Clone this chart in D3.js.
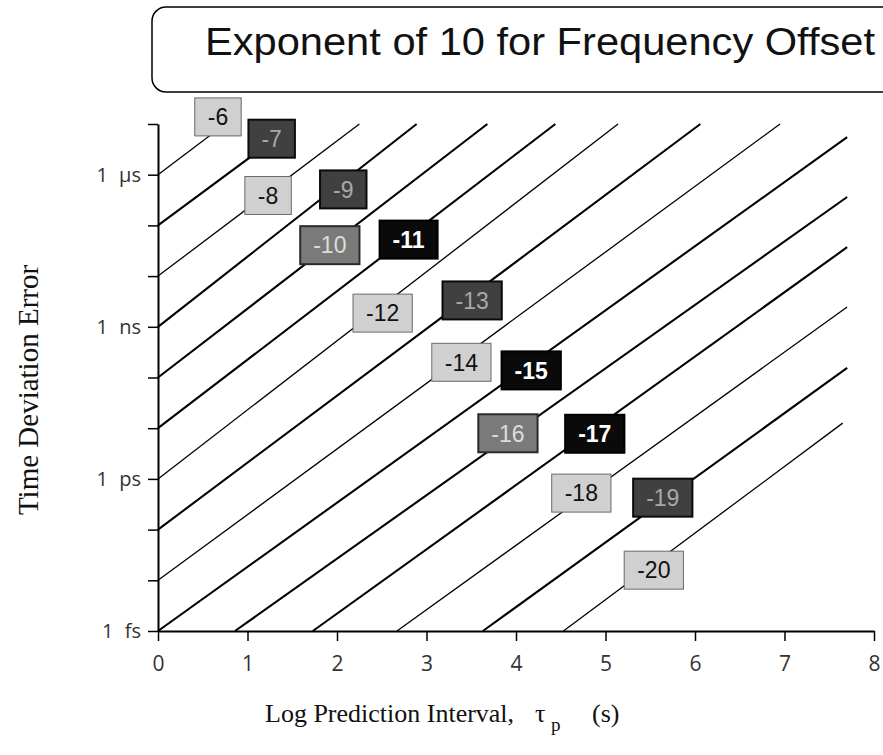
<!DOCTYPE html>
<html>
<head>
<meta charset="utf-8">
<script src="https://cdn.jsdelivr.net/npm/d3@7"></script>
<style>
  html, body { margin: 0; padding: 0; background: #fff; }
  svg { display: block; }
</style>
</head>
<body>
<svg id="chart" width="883" height="755"></svg>
<script>
// ---- Data ----
const titleText = "Exponent of 10 for Frequency Offset";
const xTicks = [0, 1, 2, 3, 4, 5, 6, 7, 8];
const yTicks = [-15, -14, -13, -12, -11, -10, -9, -8, -7, -6, -5];
const yTickLabels = { "-15": "1 fs", "-12": "1 ps", "-9": "1 ns", "-6": "1 µs" };

// exponent of 10 for the frequency offset, one line each
const exponents  = [-6, -7, -8, -9, -10, -11, -12, -13, -14, -15, -16, -17, -18, -19, -20];
// line end points: x = log prediction interval, y = log10(time deviation error, s)
const lineStartX = [0, 0, 0, 0, 0, 0, 0, 0, 0, 0, 0.86, 1.73, 2.67, 3.63, 4.53];
const lineStartY = [-6, -7, -8, -9, -10, -11, -12, -13, -14, -15, -15, -15, -15, -15, -15];
const lineEndX   = [0.75, 1.53, 2.25, 2.89, 3.68, 4.44, 5.14, 6.06, 6.95, 7.70, 7.70, 7.70, 7.70, 7.70, 7.65];
const lineEndY   = [-5, -5, -5, -5, -5, -5, -5, -5, -5, -5.26, -6.44, -7.43, -8.61, -9.81, -10.90];
// label box centres (same data units) and shade class
const labelX     = [0.67, 1.27, 1.23, 2.07, 1.92, 2.80, 2.51, 3.51, 3.39, 4.17, 3.91, 4.88, 4.73, 5.64, 5.54];
const labelY     = [-4.86, -5.29, -6.41, -6.29, -7.39, -7.28, -8.73, -8.48, -9.70, -9.86, -11.10, -11.11, -12.28, -12.37, -13.80];
const labelShade = ["light", "dark", "light", "dark", "medium", "black", "light", "dark", "light", "black", "medium", "black", "light", "dark", "light"];

// ---- Styles ----
const shadeStyle = {
  light:  { fill: "#d0d0d0", stroke: "#6a6a6a", text: "#111" },
  medium: { fill: "#7a7a7a", stroke: "#2a2a2a", text: "#dcdcdc" },
  dark:   { fill: "#404040", stroke: "#0a0a0a", text: "#a8a8a8" },
  black:  { fill: "#0a0a0a", stroke: "#000",    text: "#fff" }
};

const svg = d3.select("#chart");
const x = d3.scaleLinear().domain([0, 8]).range([158, 874]);
const y = d3.scaleLinear().domain([-15, -5]).range([631, 124]);

// Title box
svg.append("rect")
  .attr("x", 152).attr("y", 7).attr("width", 780).attr("height", 85)
  .attr("rx", 14).attr("ry", 14)
  .attr("fill", "none").attr("stroke", "#000").attr("stroke-width", 1.5);
svg.append("text")
  .attr("x", 205).attr("y", 55)
  .attr("font-family", "'Liberation Sans', Arial, sans-serif")
  .attr("font-size", 39)
  .attr("textLength", 670).attr("lengthAdjust", "spacingAndGlyphs")
  .attr("fill", "#111")
  .text(titleText);

// Axes
const tickFont = "'Open Sans', 'DejaVu Sans', sans-serif";
const xAxis = d3.axisBottom(x).tickValues(xTicks).tickSize(10).tickSizeOuter(0).tickFormat(d3.format("d"));
const gx = svg.append("g").attr("transform", `translate(0,${y(-15)})`).call(xAxis);
gx.select(".domain").attr("stroke", "#000").attr("stroke-width", 2);
gx.selectAll(".tick line").attr("stroke", "#000").attr("stroke-width", 1.5);
gx.selectAll(".tick text")
  .style("font-family", tickFont).style("font-size", "21px")
  .attr("fill", "#333").attr("y", 25).attr("dy", "0.71em");

const yAxis = d3.axisLeft(y).tickValues(yTicks).tickSize(10).tickSizeOuter(0)
  .tickFormat(d => yTickLabels[String(d)] || "");
const gy = svg.append("g").attr("transform", `translate(${x(0)},0)`).call(yAxis);
gy.select(".domain").attr("stroke", "#000").attr("stroke-width", 2);
gy.selectAll(".tick line").attr("stroke", "#000").attr("stroke-width", 1.5);
gy.selectAll(".tick text")
  .style("font-family", tickFont).style("font-size", "20px")
  .style("word-spacing", "6px")
  .attr("fill", "#333").attr("x", -17);

// Axis titles
svg.append("text")
  .attr("transform", "translate(38,390) rotate(-90)")
  .attr("text-anchor", "middle")
  .attr("font-family", "'Liberation Serif', 'Times New Roman', serif")
  .attr("font-size", 29)
  .attr("fill", "#111")
  .text("Time Deviation Error");

const xt = svg.append("text")
  .attr("x", 265).attr("y", 722)
  .attr("font-family", "'Liberation Serif', 'Times New Roman', serif")
  .attr("font-size", 26)
  .attr("fill", "#111");
xt.append("tspan").text("Log Prediction Interval,");
xt.append("tspan").attr("x", 535).text("τ");
xt.append("tspan").attr("x", 551).attr("dy", 9).attr("font-size", 19).text("p");
xt.append("tspan").attr("x", 592).attr("dy", -9).text("(s)");

// Lines
const lineData = exponents.map((e, i) => ({
  e, x0: lineStartX[i], y0: lineStartY[i], x1: lineEndX[i], y1: lineEndY[i],
  lx: labelX[i], ly: labelY[i], shade: labelShade[i]
}));
const lineGen = d3.line().x(d => x(d[0])).y(d => y(d[1]));
svg.append("g").selectAll("path").data(lineData).join("path")
  .attr("d", d => lineGen([[d.x0, d.y0], [d.x1, d.y1]]))
  .attr("fill", "none")
  .attr("stroke", "#000")
  .attr("stroke-width", d => d.shade === "light" ? 1.3 : 2.1);

// Label boxes
const lab = svg.append("g").selectAll("g").data(lineData).join("g")
  .attr("transform", d => `translate(${x(d.lx)},${y(d.ly)})`);
lab.each(function(d) {
  const g = d3.select(this);
  const st = shadeStyle[d.shade];
  const rect = g.append("rect");
  const t = g.append("text")
    .attr("text-anchor", "middle").attr("dy", "0.36em")
    .attr("font-family", "'Liberation Sans', Arial, sans-serif")
    .attr("font-size", 23)
    .attr("font-weight", d.shade === "black" ? "bold" : "normal")
    .attr("fill", st.text)
    .text(d.e);
  const w = t.node().getComputedTextLength() + 26;
  const h = 38;
  rect.attr("x", -w / 2).attr("y", -h / 2).attr("width", w).attr("height", h)
    .attr("fill", st.fill).attr("stroke", st.stroke)
    .attr("stroke-width", d.shade === "light" ? 1 : 2);
});
</script>
</body>
</html>
